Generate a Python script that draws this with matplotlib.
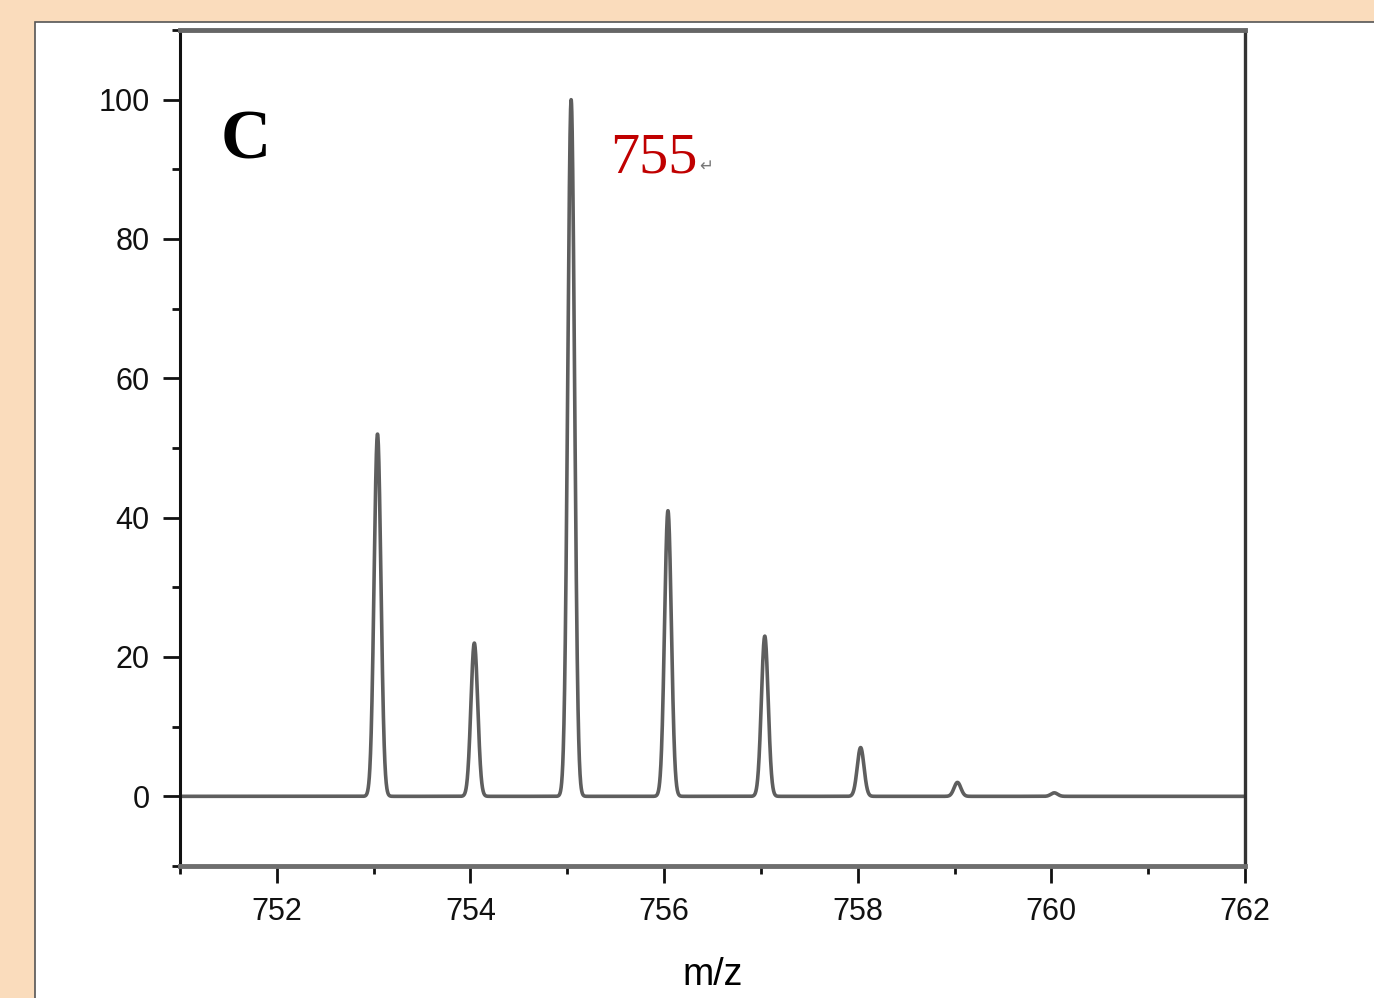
import numpy as np
import matplotlib.pyplot as plt
from matplotlib.patches import Rectangle

# isotope peaks (m/z, relative intensity)
peak_mz = [753.04, 754.04, 755.04, 756.04, 757.04, 758.03, 759.03, 760.03]
peak_int = [52, 22, 100, 41, 23, 7, 2, 0.5]
peak_sigma = 0.035

x_ticks = [752, 754, 756, 758, 760, 762]
y_ticks = [0, 20, 40, 60, 80, 100]

# profile spectrum built from the peak list
mz = np.linspace(751, 762, 8001)
intensity = np.zeros_like(mz)
for c, h in zip(peak_mz, peak_int):
    intensity += h * np.exp(-0.5 * ((mz - c) / peak_sigma) ** 2)

fig = plt.figure(figsize=(13.74, 9.98), dpi=100, facecolor='#fadcbc')
# white page with thin border
page = Rectangle((35 / 1374, -0.01), 1, 1.01 - 22 / 998,
                 transform=fig.transFigure, facecolor='white',
                 edgecolor='#555555', linewidth=1.2, zorder=-5)
fig.add_artist(page)

ax = fig.add_axes([180 / 1374, 1 - 866 / 998, 1065 / 1374, 836 / 998])
ax.set_zorder(2)
ax.patch.set_alpha(0)
ax.plot(mz, intensity, color='#5e5e5e', linewidth=2.6)

ax.set_xlim(751, 762)
ax.set_ylim(-10, 110)
ax.set_xticks(x_ticks)
ax.set_xticks(np.arange(751, 762, 1), minor=True)
ax.set_yticks(y_ticks)
ax.set_yticks(np.arange(-10, 111, 10), minor=True)
ax.tick_params(which='both', direction='out', width=2, colors='#111111',
               top=False, right=False)
ax.tick_params(which='major', length=12, labelsize=22, pad=10)
ax.tick_params(which='minor', length=6)
for lab in ax.get_xticklabels() + ax.get_yticklabels():
    lab.set_family('Liberation Sans')
ax.set_xlabel('m/z', fontsize=27, family='Liberation Sans', labelpad=22)

ax.spines['left'].set_color('#111111')
ax.spines['left'].set_linewidth(2.2)
ax.spines['right'].set_color('#333333')
ax.spines['right'].set_linewidth(2.4)
ax.spines['top'].set_color('#666666')
ax.spines['top'].set_linewidth(3.5)
ax.spines['bottom'].set_color('#6e6e6e')
ax.spines['bottom'].set_linewidth(3.5)

ax.text(751.42, 94, 'C', fontsize=50, fontweight='bold',
        family='Liberation Serif', va='center', ha='left')
ax.text(755.44, 91.5, '755', fontsize=42, color='#c00000',
        family='Liberation Serif', va='center', ha='left')
ax.text(756.36, 90.5, '↵', fontsize=12, color='#777777',
        family='DejaVu Sans', va='center', ha='left')

fig.savefig('out.png', dpi=100, facecolor=fig.get_facecolor())
